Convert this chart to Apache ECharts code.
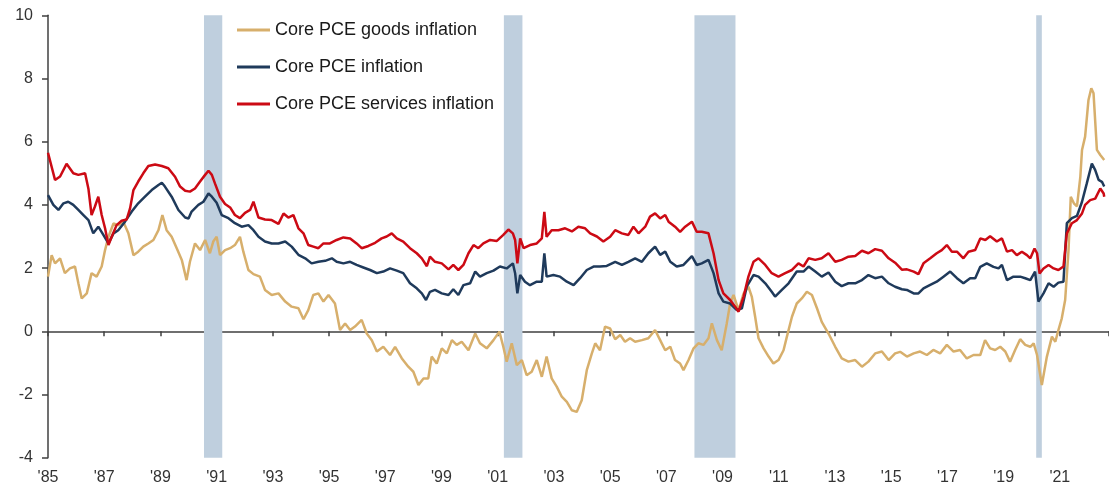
<!DOCTYPE html>
<html>
<head>
<meta charset="utf-8">
<script src="https://cdn.jsdelivr.net/npm/echarts@6/dist/echarts.min.js"></script>
<style>
  html, body { margin: 0; padding: 0; background: #fff; overflow: hidden; }
  #chart { width: 1109px; height: 489px; }
</style>
</head>
<body>
<div id="chart"></div>
<script>
// year/value pairs (decimal years)
const goodsData = [
  [1985.00,1.73],[1985.13,2.41],[1985.25,2.15],[1985.43,2.31],[1985.60,1.84],[1985.78,1.99],[1985.96,2.05],
  [1986.08,1.52],[1986.20,1.04],[1986.38,1.20],[1986.55,1.84],[1986.73,1.73],[1986.91,2.05],[1987.03,2.57],
  [1987.15,2.99],[1987.33,3.41],[1987.50,3.36],[1987.68,3.47],[1987.86,3.10],[1988.04,2.41],[1988.21,2.52],
  [1988.39,2.68],[1988.57,2.78],[1988.75,2.89],[1988.93,3.20],[1989.07,3.68],[1989.22,3.20],[1989.40,2.99],
  [1989.58,2.63],[1989.76,2.26],[1989.93,1.62],[1990.05,2.20],[1990.23,2.78],[1990.41,2.57],[1990.59,2.89],
  [1990.76,2.47],[1990.88,2.84],[1991.00,2.99],[1991.12,2.41],[1991.30,2.57],[1991.48,2.63],[1991.65,2.73],
  [1991.83,2.99],[1991.95,2.52],[1992.13,1.94],[1992.31,1.81],[1992.54,1.73],[1992.72,1.31],[1992.96,1.15],
  [1993.20,1.20],[1993.44,0.94],[1993.67,0.78],[1993.91,0.73],[1994.09,0.38],[1994.26,0.67],[1994.44,1.15],
  [1994.62,1.20],[1994.80,0.94],[1994.98,1.15],[1995.21,0.88],[1995.39,0.04],[1995.57,0.25],[1995.75,0.04],
  [1995.92,0.15],[1996.16,0.36],[1996.34,-0.07],[1996.52,-0.28],[1996.70,-0.64],[1996.93,-0.49],[1997.17,-0.75],
  [1997.35,-0.49],[1997.59,-0.86],[1997.82,-1.12],[1998.00,-1.28],[1998.18,-1.70],[1998.36,-1.49],[1998.53,-1.49],
  [1998.65,-0.80],[1998.83,-1.02],[1999.01,-0.54],[1999.19,-0.70],[1999.37,-0.28],[1999.54,-0.43],[1999.72,-0.33],
  [1999.96,-0.60],[2000.20,-0.07],[2000.37,-0.38],[2000.61,-0.54],[2000.85,-0.28],[2001.06,-0.01],[2001.20,-0.49],
  [2001.32,-0.96],[2001.50,-0.38],[2001.68,-1.07],[2001.86,-0.91],[2002.03,-1.39],[2002.21,-1.28],[2002.39,-0.91],
  [2002.57,-1.44],[2002.74,-0.80],[2002.92,-1.49],[2003.10,-1.75],[2003.28,-2.07],[2003.46,-2.23],[2003.64,-2.50],
  [2003.81,-2.55],[2003.99,-2.18],[2004.17,-1.23],[2004.35,-0.70],[2004.47,-0.38],[2004.64,-0.60],[2004.82,0.15],
  [2005.00,0.09],[2005.18,-0.25],[2005.36,-0.12],[2005.53,-0.33],[2005.71,-0.22],[2005.89,-0.33],[2006.13,-0.28],
  [2006.36,-0.22],[2006.60,0.04],[2006.78,-0.28],[2006.96,-0.60],[2007.14,-0.49],[2007.31,-0.91],[2007.49,-1.02],
  [2007.61,-1.23],[2007.79,-0.91],[2007.97,-0.54],[2008.14,-0.38],[2008.32,-0.43],[2008.50,-0.22],[2008.62,0.25],
  [2008.80,-0.28],[2008.97,-0.60],[2009.15,0.25],[2009.27,0.88],[2009.39,1.15],[2009.57,0.67],[2009.75,1.20],
  [2009.92,1.41],[2010.04,1.10],[2010.16,0.46],[2010.28,-0.22],[2010.46,-0.54],[2010.64,-0.80],[2010.81,-1.02],
  [2010.99,-0.91],[2011.17,-0.60],[2011.29,-0.17],[2011.47,0.46],[2011.64,0.88],[2011.82,1.04],[2012.00,1.25],
  [2012.18,1.15],[2012.36,0.73],[2012.53,0.30],[2012.77,-0.07],[2013.01,-0.49],[2013.24,-0.86],[2013.48,-0.96],
  [2013.72,-0.91],[2013.96,-1.12],[2014.19,-0.96],[2014.43,-0.70],[2014.67,-0.64],[2014.91,-0.91],[2015.14,-0.70],
  [2015.32,-0.65],[2015.56,-0.80],[2015.80,-0.70],[2016.03,-0.64],[2016.27,-0.75],[2016.50,-0.59],[2016.74,-0.70],
  [2016.98,-0.43],[2017.22,-0.64],[2017.45,-0.59],[2017.69,-0.86],[2017.93,-0.75],[2018.17,-0.75],[2018.34,-0.28],
  [2018.52,-0.54],[2018.70,-0.59],[2018.88,-0.49],[2019.06,-0.64],[2019.23,-0.96],[2019.41,-0.59],[2019.59,-0.25],
  [2019.77,-0.43],[2019.95,-0.49],[2020.07,-0.38],[2020.19,-0.75],[2020.36,-1.70],[2020.54,-0.80],[2020.72,-0.17],
  [2020.84,-0.33],[2020.95,0.04],[2021.07,0.41],[2021.19,0.99],[2021.31,2.57],[2021.39,4.26],[2021.50,4.05],
  [2021.61,3.95],[2021.73,4.89],[2021.79,5.74],[2021.90,6.16],[2022.02,7.32],[2022.12,7.69],[2022.20,7.53],
  [2022.32,5.74],[2022.44,5.58],[2022.58,5.42]
];

const coreData = [
  [1985.00,4.31],[1985.19,4.00],[1985.37,3.84],[1985.55,4.05],[1985.72,4.10],[1985.90,4.00],[1986.08,3.84],
  [1986.26,3.68],[1986.44,3.52],[1986.61,3.10],[1986.79,3.31],[1986.97,3.05],[1987.15,2.78],[1987.33,3.10],
  [1987.50,3.20],[1987.74,3.47],[1987.98,3.79],[1988.21,4.05],[1988.45,4.26],[1988.69,4.47],[1988.93,4.63],
  [1989.05,4.70],[1989.16,4.58],[1989.40,4.26],[1989.64,3.84],[1989.88,3.60],[1990.00,3.57],[1990.11,3.79],
  [1990.35,4.00],[1990.53,4.10],[1990.71,4.36],[1990.83,4.26],[1991.00,4.07],[1991.18,3.68],[1991.42,3.58],
  [1991.65,3.42],[1991.89,3.31],[1992.13,3.36],[1992.31,3.20],[1992.49,2.99],[1992.72,2.84],[1992.96,2.78],
  [1993.20,2.78],[1993.44,2.84],[1993.67,2.68],[1993.91,2.42],[1994.15,2.31],[1994.38,2.15],[1994.62,2.20],
  [1994.86,2.23],[1995.10,2.31],[1995.27,2.20],[1995.51,2.15],[1995.75,2.20],[1995.98,2.10],[1996.22,2.02],
  [1996.46,1.94],[1996.70,1.84],[1996.93,1.89],[1997.17,1.99],[1997.41,1.92],[1997.64,1.84],[1997.88,1.52],
  [1998.12,1.36],[1998.30,1.20],[1998.45,0.99],[1998.59,1.25],[1998.77,1.31],[1999.01,1.20],[1999.25,1.15],
  [1999.42,1.33],[1999.60,1.15],[1999.78,1.46],[2000.02,1.52],[2000.20,1.89],[2000.37,1.73],[2000.61,1.84],
  [2000.85,1.92],[2001.08,2.05],[2001.32,1.99],[2001.54,2.15],[2001.62,1.84],[2001.70,1.20],[2001.80,1.78],
  [2001.97,1.57],[2002.15,1.46],[2002.39,1.57],[2002.57,1.57],[2002.66,2.47],[2002.74,1.73],[2002.98,1.78],
  [2003.22,1.73],[2003.46,1.57],[2003.70,1.46],[2003.93,1.68],[2004.17,1.94],[2004.41,2.05],[2004.64,2.05],
  [2004.88,2.07],[2005.18,2.20],[2005.42,2.10],[2005.65,2.20],[2005.89,2.31],[2006.13,2.20],[2006.36,2.47],
  [2006.60,2.68],[2006.78,2.42],[2006.96,2.52],[2007.14,2.20],[2007.37,2.05],[2007.61,2.10],[2007.91,2.38],
  [2008.08,2.10],[2008.26,2.15],[2008.50,2.26],[2008.68,1.84],[2008.86,1.20],[2009.03,0.94],[2009.27,0.88],
  [2009.51,0.67],[2009.69,0.73],[2009.86,1.41],[2010.10,1.78],[2010.28,1.73],[2010.52,1.52],[2010.75,1.25],
  [2010.87,1.10],[2011.11,1.31],[2011.35,1.52],[2011.64,1.89],[2011.88,1.89],[2012.06,2.05],[2012.30,1.89],
  [2012.53,1.73],[2012.77,1.86],[2013.01,1.57],[2013.24,1.43],[2013.48,1.52],[2013.72,1.52],[2013.96,1.62],
  [2014.19,1.78],[2014.43,1.68],[2014.67,1.73],[2014.91,1.52],[2015.14,1.41],[2015.38,1.33],[2015.56,1.31],
  [2015.80,1.20],[2015.97,1.20],[2016.15,1.36],[2016.39,1.47],[2016.62,1.57],[2016.86,1.73],[2017.10,1.89],
  [2017.34,1.68],[2017.57,1.52],[2017.81,1.68],[2017.99,1.68],[2018.17,2.04],[2018.40,2.15],[2018.64,2.04],
  [2018.82,1.99],[2018.94,2.10],[2019.12,1.62],[2019.35,1.73],[2019.59,1.73],[2019.77,1.68],[2019.95,1.62],
  [2020.12,1.89],[2020.24,0.94],[2020.42,1.20],[2020.60,1.52],[2020.78,1.41],[2020.95,1.54],[2021.13,1.57],
  [2021.25,3.42],[2021.43,3.58],[2021.61,3.65],[2021.79,4.10],[2021.96,4.68],[2022.14,5.31],[2022.26,5.10],
  [2022.38,4.79],[2022.50,4.73],[2022.58,4.58]
];

const servicesData = [
  [1985.00,5.65],[1985.25,4.79],[1985.43,4.90],[1985.66,5.30],[1985.90,5.00],[1986.08,4.95],[1986.32,5.00],
  [1986.44,4.50],[1986.55,3.68],[1986.67,3.95],[1986.79,4.26],[1986.91,3.68],[1987.03,3.26],[1987.15,2.73],
  [1987.27,3.00],[1987.44,3.36],[1987.62,3.50],[1987.80,3.54],[1987.92,3.89],[1988.04,4.47],[1988.21,4.74],
  [1988.39,5.00],[1988.57,5.23],[1988.81,5.28],[1989.05,5.23],[1989.28,5.16],[1989.52,4.89],[1989.70,4.58],
  [1989.88,4.45],[1990.05,4.42],[1990.23,4.52],[1990.41,4.74],[1990.59,4.95],[1990.71,5.08],[1990.83,4.95],
  [1990.94,4.68],[1991.12,4.26],[1991.30,4.03],[1991.48,3.92],[1991.65,3.68],[1991.83,3.58],[1992.01,3.75],
  [1992.19,3.84],[1992.31,4.10],[1992.49,3.60],[1992.72,3.54],[1992.96,3.52],[1993.20,3.40],[1993.38,3.73],
  [1993.55,3.60],[1993.73,3.68],[1993.91,3.26],[1994.09,3.10],[1994.26,2.73],[1994.44,2.68],[1994.62,2.63],
  [1994.80,2.78],[1995.03,2.78],[1995.27,2.89],[1995.51,2.97],[1995.75,2.94],[1995.98,2.78],[1996.16,2.63],
  [1996.40,2.70],[1996.64,2.80],[1996.87,2.94],[1997.05,3.00],[1997.23,3.10],[1997.41,2.94],[1997.64,2.84],
  [1997.88,2.63],[1998.12,2.47],[1998.30,2.31],[1998.48,2.06],[1998.59,2.36],[1998.77,2.20],[1999.01,2.15],
  [1999.25,1.96],[1999.42,2.10],[1999.60,1.94],[1999.78,2.10],[1999.96,2.47],[2000.14,2.73],[2000.31,2.63],
  [2000.49,2.78],[2000.73,2.89],[2000.97,2.86],[2001.20,3.05],[2001.38,3.22],[2001.54,3.10],[2001.62,2.89],
  [2001.70,2.15],[2001.80,2.94],[2001.92,2.63],[2002.15,2.73],[2002.39,2.78],[2002.57,2.94],[2002.66,3.78],
  [2002.74,2.99],[2002.92,3.20],[2003.16,3.20],[2003.40,3.26],[2003.64,3.16],[2003.87,3.31],[2004.11,3.26],
  [2004.29,3.10],[2004.53,3.00],[2004.76,2.84],[2005.00,2.99],[2005.18,3.20],[2005.42,3.10],[2005.65,3.05],
  [2005.83,3.31],[2006.01,3.10],[2006.25,3.31],[2006.42,3.63],[2006.60,3.73],[2006.78,3.57],[2006.96,3.68],
  [2007.08,3.47],[2007.31,3.31],[2007.49,3.15],[2007.67,3.31],[2007.91,3.47],[2008.08,3.15],[2008.26,3.15],
  [2008.50,3.10],[2008.68,2.47],[2008.86,1.62],[2009.03,1.20],[2009.27,0.99],[2009.45,0.78],[2009.57,0.62],
  [2009.75,1.10],[2009.92,1.73],[2010.10,2.20],[2010.28,2.31],[2010.52,2.10],[2010.75,1.84],[2010.99,1.73],
  [2011.23,1.84],[2011.47,1.94],[2011.70,2.15],[2011.88,2.05],[2012.06,2.31],[2012.30,2.26],[2012.53,2.31],
  [2012.77,2.47],[2013.01,2.20],[2013.24,2.26],[2013.48,2.36],[2013.72,2.38],[2013.96,2.55],[2014.19,2.47],
  [2014.43,2.60],[2014.67,2.55],[2014.91,2.31],[2015.14,2.17],[2015.38,1.95],[2015.56,1.96],[2015.80,1.89],
  [2015.97,1.81],[2016.15,2.15],[2016.39,2.31],[2016.62,2.47],[2016.80,2.57],[2016.98,2.73],[2017.16,2.52],
  [2017.34,2.52],[2017.57,2.31],[2017.75,2.52],[2017.99,2.57],[2018.17,2.94],[2018.35,2.89],[2018.52,3.01],
  [2018.76,2.84],[2018.94,2.94],[2019.12,2.52],[2019.30,2.57],[2019.47,2.41],[2019.65,2.52],[2019.83,2.41],
  [2019.95,2.31],[2020.10,2.62],[2020.19,2.47],[2020.28,1.83],[2020.42,1.99],[2020.60,2.10],[2020.78,1.99],
  [2020.95,1.94],[2021.13,2.05],[2021.25,3.10],[2021.43,3.42],[2021.61,3.52],[2021.79,3.73],[2021.90,4.00],
  [2022.08,4.15],[2022.26,4.20],[2022.44,4.52],[2022.56,4.36],[2022.58,4.26]
];

// NBER recessions (start, end)
const recessions = [[1990.55, 1991.2], [2001.22, 2001.88], [2008.0, 2009.46], [2020.16, 2020.36]];

const seriesNames = ['Core PCE goods inflation', 'Core PCE inflation', 'Core PCE services inflation'];
const seriesColors = ['#D7AF6C', '#1F3A5B', '#CC0A14'];

const baseYear = 1985;
const shift = arr => arr.map(p => [p[0] - baseYear, p[1]]);
const font = "'Liberation Sans', Arial, sans-serif";

const chart = echarts.init(document.getElementById('chart'));

const lineSeries = [goodsData, coreData, servicesData].map((d, i) => ({
    name: seriesNames[i],
    type: 'line',
    data: shift(d),
    showSymbol: false,
    symbol: 'none',
    z: 3 + i,
    lineStyle: { color: seriesColors[i], width: 2.5 },
    itemStyle: { color: seriesColors[i] }
}));

const option = {
    animation: false,
    backgroundColor: '#fff',
    grid: { left: 48, right: 0, top: 15.3, bottom: 31.3, containLabel: false, outerBoundsMode: 'none' },
    legend: {
        orient: 'vertical',
        left: 237,
        top: 21,
        padding: 0,
        icon: 'rect',
        itemWidth: 33,
        itemHeight: 3,
        itemGap: 19,
        data: seriesNames,
        textStyle: { fontFamily: font, fontSize: 18, lineHeight: 17, color: '#1a1a1a' }
    },
    xAxis: [
        {   // labels along the bottom
            type: 'value', min: 0, max: 37.75, interval: 2,
            position: 'bottom',
            axisLine: { show: false, onZero: false },
            axisTick: { show: false },
            splitLine: { show: false },
            axisLabel: {
                margin: 12, fontFamily: font, fontSize: 16, color: '#333',
                showMaxLabel: false,
                formatter: v => "'" + String(baseYear + v).slice(2)
            }
        },
        {   // zero line with ticks
            type: 'value', min: 0, max: 37.75, interval: 2,
            position: 'top',
            axisLine: { show: true, onZero: true, lineStyle: { color: '#404040', width: 1.5 } },
            axisTick: { show: true, inside: true, length: 5, lineStyle: { color: '#404040', width: 1.5 } },
            axisLabel: { show: false },
            splitLine: { show: false }
        }
    ],
    yAxis: {
        type: 'value', min: -4, max: 10, interval: 2,
        axisLine: { show: true, lineStyle: { color: '#404040', width: 1.5 } },
        axisTick: { show: true, length: 6, lineStyle: { color: '#404040', width: 1.5 } },
        splitLine: { show: false },
        axisLabel: { margin: 15, fontFamily: font, fontSize: 16, color: '#333' }
    },
    series: [
        {
            type: 'line',
            data: [],
            silent: true,
            z: 1,
            markArea: {
                silent: true,
                itemStyle: { color: '#BFCFDE', opacity: 1 },
                data: recessions.map(r => [{ xAxis: r[0] - baseYear }, { xAxis: r[1] - baseYear }])
            }
        },
        ...lineSeries
    ]
};

chart.setOption(option);
window.addEventListener('resize', chart.resize);
</script>
</body>
</html>
